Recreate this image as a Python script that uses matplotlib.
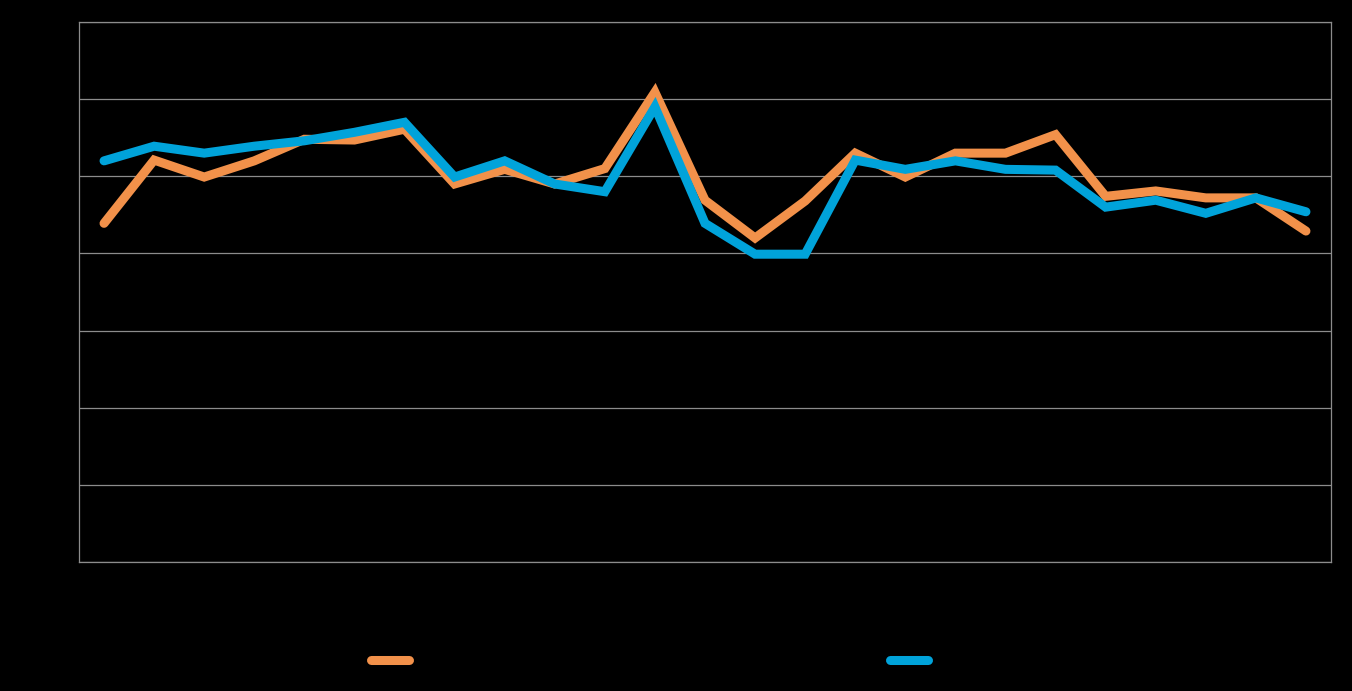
import matplotlib
matplotlib.use("Agg")
import matplotlib.pyplot as plt
import numpy as np

# values (y axis has no visible labels; 0..70 scale)
periods = [str(i) for i in range(1, 26)]
series_a = [43.9, 52.1, 49.9, 52.0, 54.8, 54.7, 56.1, 49.0, 50.9, 49.0, 51.0, 60.9,
            46.9, 42.0, 46.8, 53.0, 49.9, 53.0, 53.0, 55.4, 47.4, 48.1, 47.2, 47.2, 42.9]
series_b = [52.0, 53.9, 53.0, 53.9, 54.6, 55.7, 57.0, 49.9, 52.0, 49.0, 48.0, 59.0,
            43.9, 39.9, 39.9, 52.1, 50.9, 52.0, 50.9, 50.8, 46.0, 46.9, 45.2, 47.2, 45.4]
y_ticks = [0, 10, 20, 30, 40, 50, 60, 70]

ORANGE = "#F2914A"
BLUE = "#00A3DA"
GRID = "#8C8C8C"

fig = plt.figure(figsize=(13.52, 6.91), dpi=100, facecolor="black")
ax = fig.add_axes([79 / 1352, 1 - 562 / 691, 1252 / 1352, 540 / 691])
ax.set_facecolor("black")

x = np.arange(len(periods))
la, = ax.plot(x, series_a, color=ORANGE, lw=6.5, solid_capstyle="round",
              solid_joinstyle="miter", label="Series A", zorder=3)
lb, = ax.plot(x, series_b, color=BLUE, lw=6.5, solid_capstyle="round",
              solid_joinstyle="miter", label="Series B", zorder=4)

ax.set_xlim(-0.5, len(periods) - 0.5)
ax.set_ylim(y_ticks[0], y_ticks[-1])
ax.set_yticks(y_ticks)
ax.set_xticks(x)
ax.set_xticklabels(periods)
ax.tick_params(length=0, colors="black", labelcolor="black")
ax.grid(axis="y", color=GRID, lw=0.9)
for s in ax.spines.values():
    s.set_color(GRID)
    s.set_linewidth(0.9)

leg = fig.legend(handles=[la, lb], loc="center", ncol=2,
                 bbox_to_anchor=(682 / 1352, 1 - 661 / 691),
                 frameon=False, handlelength=2.75, columnspacing=30,
                 handletextpad=0.6, fontsize=10)
for t in leg.get_texts():
    t.set_color("black")

fig.savefig("out.png", dpi=100, facecolor="black")
